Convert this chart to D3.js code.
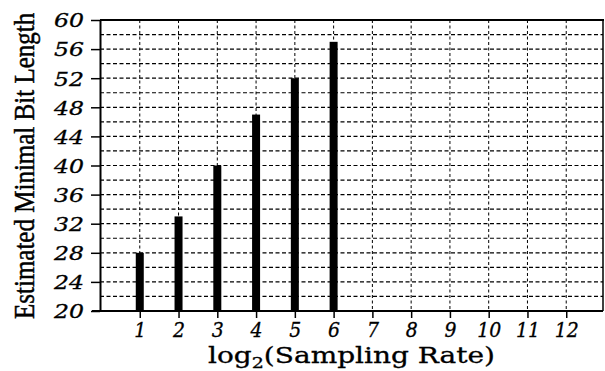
<!DOCTYPE html>
<html>
<head>
<meta charset="utf-8">
<script src="https://cdn.jsdelivr.net/npm/d3@7"></script>
<style>
  html, body { margin: 0; padding: 0; background: #fff; }
  svg { display: block; }
</style>
</head>
<body>
<svg id="chart" width="605" height="371"></svg>
<script>
const samplingLog = [1, 2, 3, 4, 5, 6];
const bitLength = [28, 33, 40, 47, 52, 57];
const xTicks = [1, 2, 3, 4, 5, 6, 7, 8, 9, 10, 11, 12];
const yTicks = [20, 24, 28, 32, 36, 40, 44, 48, 52, 56, 60];
const yGrid = [22, 24, 26, 28, 30, 32, 34, 36, 38, 40, 42, 44, 46, 48, 50, 52, 54, 56, 58];

const W = 605, H = 371;
const svg = d3.select("#chart");
const x = d3.scaleLinear().domain([0, 13]).range([101, 605]);
const y = d3.scaleLinear().domain([20, 60]).range([311, 20]);
const left = 100, right = 603;

// grid
svg.append("g").selectAll("line").data(yGrid).join("line")
    .attr("x1", left).attr("x2", right)
    .attr("y1", d => y(d)).attr("y2", d => y(d))
    .attr("stroke", "#000").attr("stroke-width", 1.2)
    .attr("stroke-dasharray", "4,2.5");
svg.append("g").selectAll("line").data(xTicks).join("line")
    .attr("x1", d => x(d)).attr("x2", d => x(d))
    .attr("y1", y(60)).attr("y2", y(20))
    .attr("stroke", "#000").attr("stroke-width", 1)
    .attr("stroke-dasharray", "3,2.5");

// bars
svg.append("g").selectAll("rect").data(samplingLog).join("rect")
    .attr("x", d => x(d) - 4)
    .attr("width", 8)
    .attr("y", (d, i) => y(bitLength[i]))
    .attr("height", (d, i) => y(20) - y(bitLength[i]))
    .attr("fill", "#000");

// frame
svg.append("line").attr("x1", left).attr("x2", right + 1).attr("y1", y(60)).attr("y2", y(60))
    .attr("stroke", "#000").attr("stroke-width", 2);
svg.append("line").attr("x1", right).attr("x2", right).attr("y1", y(60)).attr("y2", y(20))
    .attr("stroke", "#000").attr("stroke-width", 1.5);

// axes
const yAxis = svg.append("g").attr("transform", `translate(${left},0)`)
    .call(d3.axisLeft(y).tickValues(yTicks).tickSize(9).tickPadding(8).tickSizeOuter(0));
yAxis.select(".domain").attr("stroke-width", 2);
yAxis.selectAll(".tick line").attr("stroke-width", 1.5);
yAxis.selectAll(".tick text")
    .attr("font-family", "'DejaVu Serif', serif").attr("font-style", "italic")
    .attr("font-size", 19).attr("fill", "#000")
    .attr("stroke", "#000").attr("stroke-width", 0.3)
    .attr("dx", 1).attr("dy", "0.36em")
    .attr("textLength", 30).attr("lengthAdjust", "spacingAndGlyphs");

const xAxis = svg.append("g").attr("transform", `translate(0,${y(20)})`)
    .call(d3.axisBottom(x).tickValues(xTicks).tickSize(7).tickPadding(5).tickSizeOuter(0));
xAxis.select(".domain").attr("d", `M${left - 8},0H${right}`).attr("stroke-width", 2);
xAxis.selectAll(".tick line").attr("stroke-width", 1.5);
xAxis.selectAll(".tick text")
    .attr("font-family", "'DejaVu Serif', serif").attr("font-style", "italic")
    .attr("font-size", 20).attr("fill", "#000")
    .attr("stroke", "#000").attr("stroke-width", 0.3)
    .attr("textLength", d => d >= 10 ? 24 : 12).attr("lengthAdjust", "spacingAndGlyphs");

// titles
const xt = svg.append("text")
    .attr("x", 208).attr("y", 363)
    .attr("font-family", "'DejaVu Serif', serif").attr("font-size", 22)
    .attr("stroke", "#000").attr("stroke-width", 0.3)
    .attr("textLength", 287).attr("lengthAdjust", "spacingAndGlyphs")
    .attr("fill", "#000");
xt.append("tspan").text("log");
xt.append("tspan").attr("font-size", 15).attr("dy", 5).text("2");
xt.append("tspan").attr("dy", -5).text("(Sampling Rate)");

// y title: glyphs a bit taller than wide, like the scanned original
svg.append("text")
    .attr("transform", "translate(34,319) rotate(-90) scale(1,1.15)")
    .attr("font-family", "'Liberation Serif', 'Times New Roman', serif").attr("font-size", 25)
    .attr("stroke", "#000").attr("stroke-width", 0.4)
    .attr("fill", "#000")
    .text("Estimated Minimal Bit Length");
</script>
</body>
</html>
